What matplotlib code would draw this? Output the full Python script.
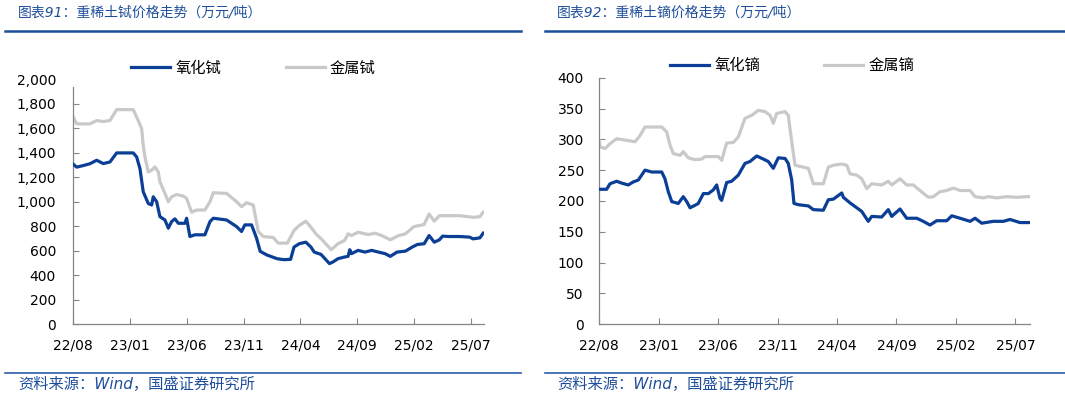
"""重稀土铽/镝价格走势 (two panels)."""

import matplotlib
matplotlib.use("Agg")
import matplotlib.pyplot as plt
from matplotlib.lines import Line2D
from matplotlib.ticker import FuncFormatter

# x values are months since 2022-08
tick_months = [0, 5, 10, 15, 20, 25, 30, 35]
tick_labels = ["22/08", "23/01", "23/06", "23/11", "24/04", "24/09", "25/02", "25/07"]

# 氧化铽
tb_oxide_x = [0.0, 0.3, 0.88, 1.47, 2.06, 2.64, 3.23, 3.82, 5.28, 5.58, 5.87, 6.16, 6.6, 6.9,
              7.04, 7.34, 7.63, 8.07, 8.37, 8.66, 8.95, 9.25, 9.83, 9.98, 10.27, 10.71, 11.59,
              12.04, 12.33, 13.5, 14.38, 14.82, 15.11, 15.7, 16.14, 16.46, 17.06, 17.95, 18.55,
              19.14, 19.44, 19.89, 20.48, 20.93, 21.22, 21.82, 22.56, 22.86, 23.31, 23.9, 24.2,
              24.35, 24.5, 25.09, 25.69, 26.28, 26.88, 27.47, 27.92, 28.51, 29.26, 29.85, 30.3,
              30.9, 31.34, 31.79, 32.24, 32.53, 33.13, 34.02, 34.91, 35.21, 35.81, 36.1]
tb_oxide = [1305, 1282, 1295, 1310, 1338, 1311, 1324, 1398, 1398, 1365, 1270, 1081, 986, 973,
            1040, 1000, 878, 851, 784, 838, 860, 824, 824, 865, 716, 730, 730,
            838, 865, 851, 797, 757, 811, 811, 703, 595, 565, 535, 527,
            530, 630, 657, 670, 630, 589, 570, 495, 508, 535, 549, 554,
            608, 576, 603, 589, 603, 589, 576, 554, 589, 597, 630, 651,
            657, 724, 670, 689, 719, 716, 716, 711, 697, 705, 743]

# 金属铽
tb_metal_x = [0.0, 0.3, 1.47, 2.06, 2.64, 3.23, 3.82, 5.28, 5.72, 6.02, 6.16, 6.31, 6.6, 6.9,
              7.19, 7.48, 7.63, 8.07, 8.37, 8.66, 9.1, 9.69, 9.98, 10.42, 10.86, 11.59, 12.04,
              12.33, 13.5, 14.38, 14.82, 15.26, 15.85, 16.29, 16.73, 17.61, 18.05, 18.85, 19.44,
              19.89, 20.48, 20.93, 21.37, 21.97, 22.71, 23.31, 23.9, 24.2, 24.5, 25.09, 25.99,
              26.58, 27.17, 27.92, 28.66, 29.26, 30.0, 30.9, 31.34, 31.79, 32.24, 33.13, 34.02,
              35.21, 35.81, 36.1]
tb_metal = [1689, 1635, 1635, 1662, 1654, 1662, 1751, 1751, 1662, 1595, 1459, 1365, 1243, 1257,
            1284, 1243, 1162, 1068, 1000, 1040, 1059, 1046, 1027, 914, 932, 932, 1000,
            1073, 1068, 1000, 959, 992, 973, 757, 716, 708, 662, 662, 765,
            805, 841, 792, 738, 684, 608, 657, 684, 738, 724, 751, 732,
            743, 724, 689, 724, 738, 797, 814, 900, 841, 886, 886, 886,
            873, 878, 914]

# 氧化镝
dy_oxide_x = [0.0, 0.63, 0.91, 1.47, 1.89, 2.45, 2.87, 3.29, 3.85, 4.42, 5.26, 5.53, 5.81, 6.1,
              6.65, 7.07, 7.36, 7.64, 8.06, 8.33, 8.76, 9.18, 9.6, 9.88, 10.16, 10.3, 10.72,
              11.14, 11.7, 12.26, 12.68, 13.25, 13.8, 14.22, 14.64, 15.06, 15.63, 15.9, 16.19,
              16.38, 16.75, 17.59, 18.01, 18.85, 19.27, 19.69, 20.4, 20.53, 21.09, 21.66, 22.08,
              22.63, 22.92, 23.76, 24.31, 24.6, 25.3, 25.86, 26.7, 27.26, 27.82, 28.38, 29.23,
              29.65, 30.35, 31.19, 31.61, 32.17, 33.15, 33.99, 34.55, 35.39, 36.2]
dy_oxide = [219, 219, 228, 232, 229, 226, 231, 234, 250, 247, 247, 236, 215, 199,
            196, 207, 199, 189, 193, 196, 212, 212, 218, 226, 204, 201, 230,
            232, 242, 261, 264, 273, 268, 264, 253, 270, 269, 261, 234,
            196, 194, 192, 186, 185, 202, 203, 213, 206, 197, 189, 183,
            167, 175, 174, 186, 175, 187, 172, 172, 167, 161, 168, 168,
            176, 172, 167, 172, 164, 167, 167, 170, 165, 165]

# 金属镝
dy_metal_x = [0.0, 0.07, 0.49, 0.91, 1.47, 2.45, 3.01, 3.43, 3.85, 5.26, 5.68, 5.95, 6.23, 6.8,
              7.07, 7.49, 8.06, 8.62, 8.9, 10.02, 10.3, 10.72, 11.28, 11.7, 12.26, 12.83, 13.38,
              13.94, 14.37, 14.64, 14.93, 15.63, 15.9, 16.19, 16.47, 17.59, 18.01, 18.85, 19.27,
              19.69, 20.4, 20.82, 21.09, 21.66, 22.08, 22.5, 22.92, 23.76, 24.31, 24.6, 25.3,
              25.86, 26.42, 26.98, 27.68, 28.1, 28.66, 29.23, 29.78, 30.35, 31.19, 31.61, 32.3,
              32.73, 33.43, 34.27, 35.11, 35.95, 36.2]
dy_metal = [298, 288, 285, 293, 301, 298, 296, 306, 320, 320, 312, 291, 277, 274,
            280, 270, 267, 268, 272, 272, 266, 294, 295, 304, 334, 339, 347,
            345, 339, 326, 342, 345, 339, 296, 258, 253, 228, 228, 255,
            258, 260, 258, 244, 242, 236, 220, 228, 226, 232, 226, 236,
            226, 226, 217, 206, 207, 215, 217, 221, 217, 217, 207, 205,
            207, 205, 207, 206, 207, 207]

BLUE = "#0B3F96"
GRAY = "#C9C9C9"
HEAD = "#1F4E9A"
AXIS = "#868686"
CJK = ["Noto Sans CJK SC", "DejaVu Sans"]
ITAL = ["DejaVu Sans", "Noto Sans CJK SC"]


def style_axis(ax, xmax, ymax, ystep, pad_y, fmt):
    ax.set_xlim(0, xmax)
    ax.set_ylim(0, ymax)
    ax.set_xticks(tick_months)
    ax.set_xticklabels(tick_labels)
    ax.set_yticks(range(0, ymax + 1, ystep))
    ax.yaxis.set_major_formatter(FuncFormatter(fmt))
    for s in ["top", "right"]:
        ax.spines[s].set_visible(False)
    for s in ["left", "bottom"]:
        ax.spines[s].set_color(AXIS)
        ax.spines[s].set_linewidth(0.9)
    ax.tick_params(axis="both", direction="in", length=4, width=0.8, color=AXIS,
                   labelsize=10, labelcolor="black")
    ax.tick_params(axis="x", pad=10)
    ax.tick_params(axis="y", pad=pad_y)
    ax.patch.set_alpha(0)


def main():
    fig = plt.figure(figsize=(10.65, 3.98), dpi=100)

    # left panel: 铽
    ax1 = fig.add_axes([73.3 / 1065, 0.1852, 411 / 1065, 0.616])
    ax1.plot(tb_oxide_x, tb_oxide, color=BLUE, lw=2.3, label="氧化铽", zorder=3)
    ax1.plot(tb_metal_x, tb_metal, color=GRAY, lw=2.3, label="金属铽", zorder=2)
    style_axis(ax1, 36.2, 2000, 200, 12.5, lambda v, p: f"{int(v):,}")
    ax1.spines["left"].set_bounds(0, 1938)
    ax1.yaxis.get_major_ticks()[-1].tick1line.set_visible(False)
    ax1.legend(loc="center", bbox_to_anchor=(253.6 / 1065, 1 - 68 / 398),
               bbox_transform=fig.transFigure, ncol=2, frameon=False,
               prop={"family": CJK, "size": 11}, handlelength=2.55,
               handletextpad=0.35, columnspacing=4.2)

    # right panel: 镝
    ax2 = fig.add_axes([599.2 / 1065, 0.1852, 430.8 / 1065, 0.6196])
    ax2.plot(dy_oxide_x, dy_oxide, color=BLUE, lw=2.3, label="氧化镝", zorder=3)
    ax2.plot(dy_metal_x, dy_metal, color=GRAY, lw=2.3, label="金属镝", zorder=2)
    style_axis(ax2, 36.23, 400, 50, 11, lambda v, p: f"{int(v)}")
    ax2.legend(loc="center", bbox_to_anchor=(792.4 / 1065, 1 - 65.5 / 398),
               bbox_transform=fig.transFigure, ncol=2, frameon=False,
               prop={"family": CJK, "size": 11}, handlelength=2.55,
               handletextpad=0.35, columnspacing=4.2)

    # titles, rules and source notes
    fig.text(17.6 / 1065, 1 - 13 / 398, "图表91：重稀土铽价格走势（万元/吨）",
             family=ITAL, style="italic", size=10, color=HEAD, va="center")
    fig.text(557 / 1065, 1 - 13 / 398, "图表92：重稀土镝价格走势（万元/吨）",
             family=ITAL, style="italic", size=10, color=HEAD, va="center")
    for x0, x1 in [(5, 520.6), (544.5, 1065)]:
        fig.add_artist(Line2D([x0 / 1065, x1 / 1065], [1 - 31 / 398] * 2,
                              color=HEAD, lw=1.8))
        fig.add_artist(Line2D([x0 / 1065, x1 / 1065], [1 - 372.7 / 398] * 2,
                              color="#2E5CA8", lw=1.2))
    fig.text(18.6 / 1065, 1 - 384 / 398, "资料来源：Wind，国盛证券研究所",
             family=ITAL, style="italic", size=11, color=HEAD, va="center")
    fig.text(557 / 1065, 1 - 384 / 398, "资料来源：Wind，国盛证券研究所",
             family=ITAL, style="italic", size=11, color=HEAD, va="center")

    fig.savefig("out.png", dpi=100)


if __name__ == "__main__":
    main()
